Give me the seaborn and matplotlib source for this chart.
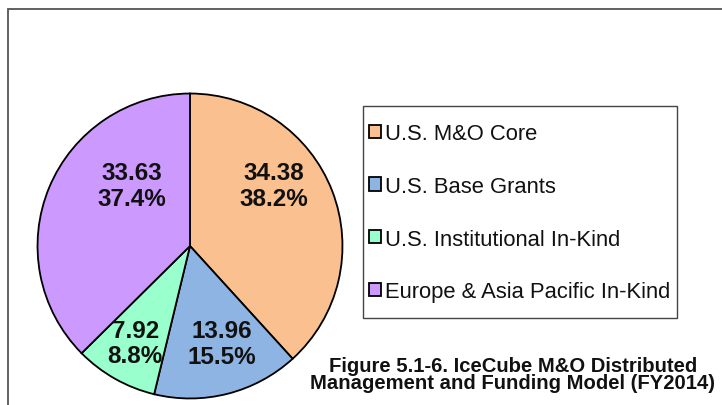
import numpy as np
import matplotlib
matplotlib.use("Agg")
import matplotlib.pyplot as plt
from matplotlib.patches import Rectangle
import seaborn as sns

# Data
categories = ["U.S. M&O Core", "U.S. Base Grants",
              "U.S. Institutional In-Kind", "Europe & Asia Pacific In-Kind"]
values = [34.38, 13.96, 7.92, 33.63]
colors = ["#FAC090", "#8EB4E3", "#99FFCC", "#CC99FF"]
caption = "Figure 5.1-6. IceCube M&O Distributed\nManagement and Funding Model (FY2014)"

# Label placement (fraction of radius, angle in degrees)
label_pos = [(0.68, 35.7), (0.67, -72.0), (0.73, -119.5), (0.55, 134.0)]

sns.set_theme(style="white")
plt.rcParams["font.family"] = ["Liberation Sans", "DejaVu Sans"]

W, H = 722, 406
fig = plt.figure(figsize=(W / 100, H / 100), dpi=100)
fig.patch.set_facecolor("white")

# outer frame (top and left edges visible)
fig.patches.append(Rectangle((8 / W, -0.2), 1.5, 1 - 10 / H + 0.2,
                             transform=fig.transFigure, fill=False,
                             edgecolor="#555555", linewidth=1.3))

# Pie
cx, cy, r = 190, 247, 154
ax = fig.add_axes([(cx - r) / W, (H - cy - r) / H, 2 * r / W, 2 * r / H])
pal = sns.color_palette(colors)
total = sum(values)
wedges, _ = ax.pie(values, colors=pal, startangle=90, counterclock=False,
                   radius=1,
                   wedgeprops=dict(edgecolor="black", linewidth=1.3))
ax.set_xlim(-1.01, 1.01)
ax.set_ylim(-1.01, 1.01)
ax.set_aspect("equal")
ax.axis("off")

for v, (d, a) in zip(values, label_pos):
    t = np.deg2rad(a)
    ax.text(d * np.cos(t), d * np.sin(t), f"{v:.2f}\n{v / total * 100:.1f}%",
            ha="center", va="center", fontsize=17.5, fontweight="bold",
            color="#111111", linespacing=1.15)

# Legend box
fig.patches.append(Rectangle((363 / W, 1 - 319 / H), (677 - 363) / W,
                             (319 - 107) / H, transform=fig.transFigure,
                             fill=False, edgecolor="#444444", linewidth=1.0))
fig.legend(wedges, categories, loc="upper left",
           bbox_to_anchor=(369 / W, 1 - 124 / H), frameon=False,
           fontsize=15.8, borderpad=0, borderaxespad=0,
           handlelength=0.55, handleheight=0.55, handletextpad=0.2,
           labelspacing=1.45, labelcolor="#111111")

# Caption
fig.text(513 / W, 1 - 375 / H, caption, ha="center", va="center",
         fontsize=14.6, fontweight="bold", color="#111111", linespacing=0.92)

fig.savefig("out.png", dpi=100, facecolor="white")
